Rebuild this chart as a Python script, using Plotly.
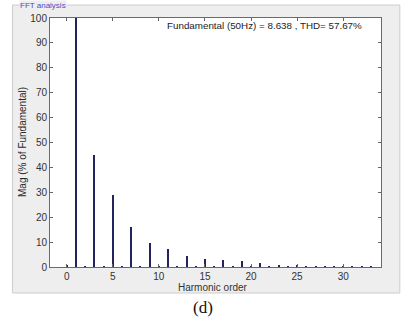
import plotly.graph_objects as go

# Harmonic spectrum of the inverter output (% of fundamental)
harmonic_order = list(range(0, 34))
magnitude_pct = [
    0.6, 100.0, 0.1, 45.0, 0.1, 28.9, 0.05, 16.2, 0.05, 9.8,
    0.05, 7.1, 0.05, 4.4, 0.05, 3.3, 0.05, 2.8, 0.05, 2.3,
    0.05, 1.6, 0.05, 1.0, 0.05, 0.6, 0.05, 0.4, 0.05, 0.3,
    0.05, 0.3, 0.05, 0.2,
]
x_ticks = [0, 5, 10, 15, 20, 25, 30]
y_ticks = [0, 10, 20, 30, 40, 50, 60, 70, 80, 90, 100]
summary_text = "Fundamental (50Hz) = 8.638 , THD= 57.67%"

W, H = 403, 322
L, R, T, B = 50, 380.7, 18, 267  # plot area in pixels


def px(xp):
    return (xp - L) / (R - L)


def py(yp):
    return (B - yp) / (B - T)


fig = go.Figure()
fig.add_trace(go.Bar(
    x=harmonic_order, y=magnitude_pct, width=0.22,
    marker=dict(color="#23235e", line=dict(width=0)),
))

axis_font = dict(family="Liberation Sans, Arial", size=10, color="#333333")

fig.update_layout(
    width=W, height=H,
    margin=dict(l=L, r=W - R, t=T, b=H - B),
    paper_bgcolor="white",
    plot_bgcolor="white",
    showlegend=False,
    bargap=0,
    xaxis=dict(
        range=[-1.81, 34.1], tickvals=x_ticks, ticks="inside", ticklen=3,
        tickcolor="#666666", showline=True, linecolor="#6a6a6a", linewidth=1,
        mirror="ticks", showgrid=False, zeroline=False, tickfont=axis_font,
    ),
    yaxis=dict(
        range=[0, 100], tickvals=y_ticks, ticks="inside", ticklen=3,
        tickcolor="#666666", showline=True, linecolor="#6a6a6a", linewidth=1,
        mirror="ticks", showgrid=False, zeroline=False, tickfont=axis_font,
    ),
    shapes=[
        # grey panel with a thin frame
        dict(type="rect", xref="paper", yref="paper", layer="below",
             x0=px(12.5), x1=px(399.5), y0=py(293), y1=py(5),
             fillcolor="#eeeeee", line=dict(color="#cccccc", width=1)),
        # white plotting area
        dict(type="rect", xref="paper", yref="paper", layer="below",
             x0=0, x1=1, y0=0, y1=1,
             fillcolor="white", line=dict(width=0)),
    ],
    annotations=[
        dict(text="FFT analysis", xref="paper", yref="paper",
             x=px(19), y=py(5), xanchor="left", yanchor="middle",
             showarrow=False, bgcolor="#eeeeee", borderpad=0,
             font=dict(family="Liberation Sans, Arial", size=8, color="#4a4ac8")),
        dict(text=summary_text, xref="paper", yref="paper",
             x=px(165), y=py(26), xanchor="left", yanchor="middle",
             showarrow=False,
             font=dict(family="Liberation Sans, Arial", size=9.8, color="#222222")),
        dict(text="Mag (% of Fundamental)", xref="paper", yref="paper",
             x=px(22), y=py(142), xanchor="center", yanchor="middle",
             textangle=-90, showarrow=False,
             font=dict(family="Liberation Sans, Arial", size=10, color="#2a2a2a")),
        dict(text="Harmonic order", xref="paper", yref="paper",
             x=px(213), y=py(287), xanchor="center", yanchor="middle",
             showarrow=False,
             font=dict(family="Liberation Sans, Arial", size=10, color="#333333")),
        dict(text="(d)", xref="paper", yref="paper",
             x=px(203), y=py(307), xanchor="center", yanchor="middle",
             showarrow=False,
             font=dict(family="Liberation Serif, Times New Roman", size=17, color="#111111")),
    ],
)

fig.write_html("out.html")
